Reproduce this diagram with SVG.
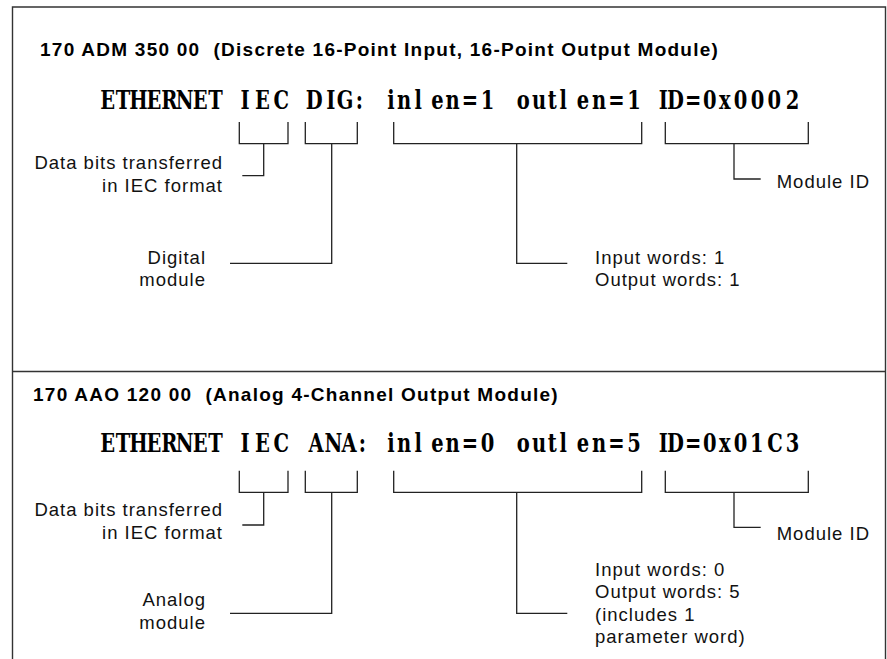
<svg xmlns="http://www.w3.org/2000/svg" width="887" height="659" viewBox="0 0 887 659">
<style>
  .frame { fill: none; stroke: #333; stroke-width: 1.4; }
  .conn path { fill: none; stroke: #222; stroke-width: 1.3; }
  .title { font-family: "Liberation Sans", Arial, sans-serif; font-weight: bold; font-size: 19px; letter-spacing: 1.25px; fill: #000; }
  .lbl { font-family: "Liberation Sans", Arial, sans-serif; font-size: 18.5px; letter-spacing: 1px; fill: #111; }
  .end { text-anchor: end; }
  .code { font-family: "DejaVu Serif", "Liberation Serif", serif; font-weight: bold; font-size: 26px; fill: #000; text-anchor: middle; }
</style>
<rect width="887" height="659" fill="#fff"/>
<g id="frame">
  <path class="frame" d="M12.5,659 V7 H885.5 V659"/>
  <path class="frame" d="M12.5,371.5 H885.5"/>
</g>

<g id="title-adm"><text class="title" x="40" y="55.7" xml:space="preserve">170 ADM 350 00  (Discrete 16-Point Input, 16-Point Output Module)</text></g>
<g id="code-adm"><text class="code" transform="scale(0.75,1)" y="109" x="143.6 164.1 184.7 205.2 225.7 246.3 266.8 287.3 306.7 326.7 350 375.1 397.3 419.1 441.1 460 479.1 500 521.3 538.9 557.7 583.3 603.3 626.4 650 673.3 697.7 718.9 736.4 751.1 777.3 798.9 822 845.3 864 884.4 900.7 924.4 946.4 966.4 987.3 1010 1032.3 1056.7">ETHERNET IEC DIG: inlen=1 outlen=1 ID=0x0002</text></g>

<g id="lbl-iec-1"><text class="lbl end" x="223" y="169.3">Data bits transferred</text><text class="lbl end" x="223" y="191.7">in IEC format</text></g>
<g id="lbl-dig"><text class="lbl end" x="206" y="264">Digital</text><text class="lbl end" x="206" y="285.7">module</text></g>
<g id="lbl-words-1"><text class="lbl" x="595" y="264">Input words: 1</text><text class="lbl" x="595" y="285.7">Output words: 1</text></g>
<g id="lbl-id-1"><text class="lbl" x="776.7" y="187.7">Module ID</text></g>

<g id="title-aao"><text class="title" x="33" y="400.7" xml:space="preserve">170 AAO 120 00  (Analog 4-Channel Output Module)</text></g>
<g id="code-aao"><text class="code" transform="scale(0.75,1)" y="452" x="143.6 164.1 184.7 205.2 225.7 246.3 266.8 287.3 306.7 326.7 350 375.1 397.3 421.3 444.4 465.3 483.3 500 521.3 538.9 557.7 583.3 603.3 626.4 650 673.3 697.7 718.9 736.4 751.1 777.3 798.9 822 845.3 864 884.4 900.7 924.4 946.4 966.4 987.3 1008.9 1033.3 1056.7">ETHERNET IEC ANA: inlen=0 outlen=5 ID=0x01C3</text></g>

<g id="lbl-iec-2"><text class="lbl end" x="223" y="516">Data bits transferred</text><text class="lbl end" x="223" y="538.7">in IEC format</text></g>
<g id="lbl-ana"><text class="lbl end" x="206" y="606.3">Analog</text><text class="lbl end" x="206" y="628.5">module</text></g>
<g id="lbl-words-2"><text class="lbl" x="595" y="575.7">Input words: 0</text><text class="lbl" x="595" y="598.2">Output words: 5</text><text class="lbl" x="595" y="620.5">(includes 1</text><text class="lbl" x="595" y="642.8">parameter word)</text></g>
<g id="lbl-id-2"><text class="lbl" x="776.7" y="540">Module ID</text></g>

<g id="connectors" class="conn">
  <path d="M239.3,122 V143.7 H288 V122 M263.7,143.7 V175.7 H242.3"/>
  <path d="M305.3,122 V143.7 H357.3 V122 M331.7,143.7 V263.3 H230"/>
  <path d="M393.7,122 V143.7 H641.7 V122 M516.7,143.7 V263.3 H567.3"/>
  <path d="M665.3,122 V143.7 H808.3 V122 M734,143.7 V179 H760.7"/>
  <path d="M239.3,470.7 V492.3 H288 V470.7 M263.7,492.3 V525 H242.3"/>
  <path d="M305.3,470.7 V492.3 H357.3 V470.7 M331.7,492.3 V613.3 H230"/>
  <path d="M393.7,470.7 V492.3 H641.7 V470.7 M516.7,492.3 V613.3 H567.3"/>
  <path d="M665.3,470.7 V492.3 H808.3 V470.7 M734,492.3 V527.3 H760.7"/>
</g>
</svg>
